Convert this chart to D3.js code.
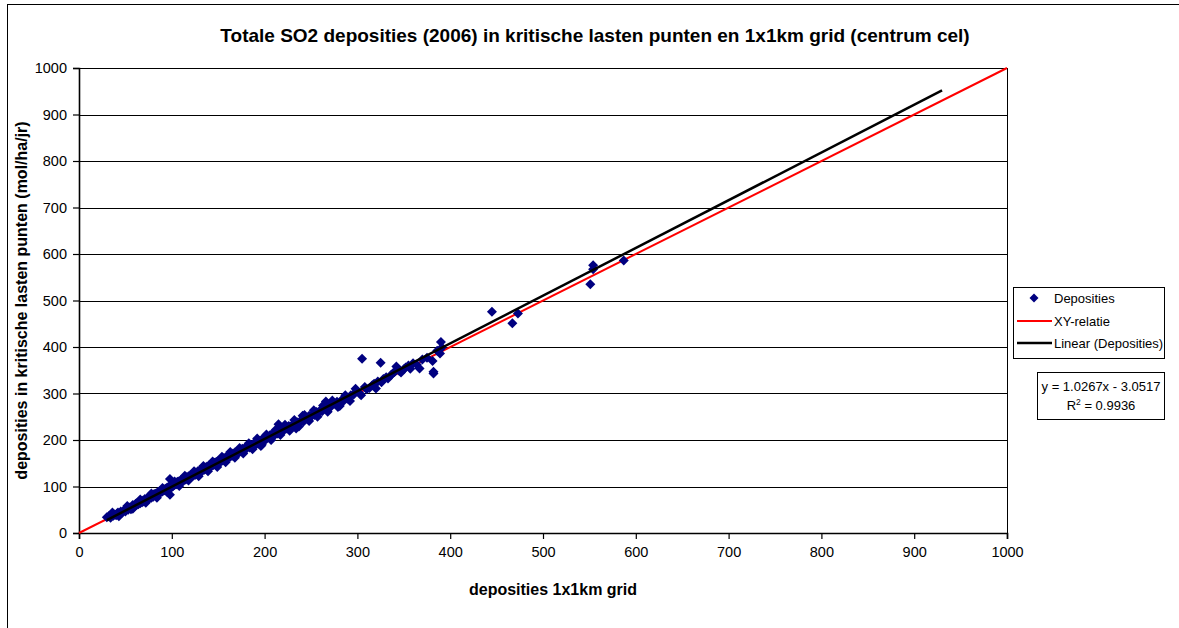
<!DOCTYPE html>
<html>
<head>
<meta charset="utf-8">
<script src="https://cdn.jsdelivr.net/npm/d3@7"></script>
<style>
  html, body { margin: 0; padding: 0; background: #fff; }
  svg { display: block; font-family: Arial, "Liberation Sans", sans-serif; }
</style>
</head>
<body>
<svg id="chart" width="1179" height="628"></svg>
<script>
const chartTitle = "Totale SO2 deposities (2006) in kritische lasten punten en 1x1km grid (centrum cel)";
const xAxisTitle = "deposities 1x1km grid";
const yAxisTitle = "deposities in kritische lasten punten (mol/ha/jr)";
const xTicks = [0, 100, 200, 300, 400, 500, 600, 700, 800, 900, 1000];
const yTicks = [0, 100, 200, 300, 400, 500, 600, 700, 800, 900, 1000];
const seriesNames = ["Deposities", "XY-relatie", "Linear (Deposities)"];
const xyRelatie = [[0, 0], [1000, 1000]];
const trendSlope = 1.0267;
const trendIntercept = -3.0517;
const trendRange = [30, 930];
const trendLabel = ["y = 1.0267x - 3.0517", "R", "2", " = 0.9936"];
const depositiesPoints = [
[30,34],[32,36],[34,33],[35,38],[37,37],[38,40],[40,38],[41,42],[42,44],[44,41],[45,46],[46,43],[48,47],[49,50],[50,46],[51,52],[53,50],[54,55],[55,53],[56,51],[57,57],[58,60],[59,56],[60,58],[61,63],[62,60],[63,65],[64,62],[65,66],[66,64],[67,69],[68,66],[69,70],[70,68],[71,73],[72,71],[73,74],[74,72],[75,77],[76,75],[77,79],[78,76],[79,80],[80,78],[81,84],[82,82],[83,85],[84,81],[85,88],[86,86],[87,90],[88,87],[89,91],[90,89],[91,94],[92,92],[93,95],[94,92],[95,98],[96,96],[97,100],[98,82],[98,116],[99,97],[100,103],[101,100],[102,106],[103,103],[104,108],[105,105],[106,110],[107,107],[108,112],[109,109],[110,114],[111,111],[112,116],[113,113],[114,118],[115,115],[116,120],[117,117],[118,122],[119,119],[120,124],[121,121],[122,126],[123,123],[124,128],[125,125],[126,130],[127,127],[128,133],[129,129],[130,135],[131,131],[132,137],[133,134],[134,139],[135,136],[136,141],[137,137],[138,143],[139,139],[140,145],[141,142],[142,147],[143,144],[144,149],[145,146],[146,151],[147,148],[148,153],[149,150],[150,155],[151,152],[152,157],[153,154],[154,159],[155,156],[156,161],[157,158],[158,163],[159,160],[160,165],[161,162],[162,167],[163,164],[164,169],[165,166],[166,171],[167,168],[168,173],[169,170],[170,175],[172,172],[173,178],[175,176],[176,181],[178,179],[179,184],[181,182],[182,187],[184,184],[185,190],[187,187],[188,192],[190,189],[191,195],[193,192],[194,198],[196,187],[196,196],[197,201],[199,198],[200,205],[202,202],[203,208],[205,205],[206,211],[208,208],[209,214],[211,211],[212,217],[214,214],[215,234],[215,220],[217,218],[219,224],[221,221],[222,227],[224,225],[226,230],[228,228],[230,233],[232,231],[234,225],[235,238],[237,236],[239,242],[241,252],[242,240],[244,247],[246,245],[248,252],[250,250],[252,256],[254,254],[256,260],[258,258],[260,264],[262,262],[264,268],[266,283],[267,278],[268,272],[270,269],[272,276],[274,280],[276,278],[278,282],[281,273],[283,286],[285,284],[288,290],[290,288],[293,296],[296,298],[299,305],[303,299],[305,375],[308,314],[310,309],[313,312],[316,318],[318,321],[320,311],[322,326],[325,366],[326,324],[328,331],[331,335],[333,332],[336,339],[338,343],[340,346],[342,358],[345,349],[347,345],[350,352],[352,356],[355,360],[357,353],[360,365],[364,362],[367,354],[370,373],[375,377],[381,370],[382,347],[382,343],[386,392],[389,386],[390,411],[391,399],[445,476],[467,451],[473,472],[551,535],[554,576],[554,567],[587,586],
[36,44],[43,36],[52,58],[58,52],[66,72],[72,65],[78,85],[84,76],[90,97],[95,88],[103,111],[108,101],[114,123],[118,113],[124,133],[129,122],[134,144],[139,133],[144,154],[149,142],[154,164],[158,152],[163,174],[168,162],[173,183],[177,171],[183,193],[187,180],[192,203],[197,190],[202,212],[207,200],[212,222],[217,211],[222,233],[227,220],[232,243],[237,229],[243,254],[248,241],[253,264],[257,250],[263,274],[268,261],[273,285],[279,271],[287,296],[292,284],[298,310],[304,296]
];

const svg = d3.select("#chart");
const plot = { left: 79, top: 68, right: 1007, bottom: 533 };

const x = d3.scaleLinear().domain([0, 1000]).range([plot.left, plot.right]);
const y = d3.scaleLinear().domain([0, 1000]).range([plot.bottom, plot.top]);

// outer frame
svg.append("rect").attr("x", 7.5).attr("y", 4.5).attr("width", 1300).attr("height", 800)
  .attr("fill", "none").attr("stroke", "#000").attr("stroke-width", 1);

// gridlines
svg.append("g").selectAll("line").data(yTicks.filter(d => d > 0)).join("line")
  .attr("x1", plot.left).attr("x2", plot.right)
  .attr("y1", d => Math.round(y(d)) + 0.5).attr("y2", d => Math.round(y(d)) + 0.5)
  .attr("stroke", "#000").attr("stroke-width", 1);

// right border of plot area
svg.append("line").attr("x1", plot.right + 0.5).attr("x2", plot.right + 0.5)
  .attr("y1", plot.top).attr("y2", plot.bottom).attr("stroke", "#000").attr("stroke-width", 1);

// axes
const xAxis = d3.axisBottom(x).tickValues(xTicks).tickSize(6).tickPadding(6).tickFormat(d3.format("d"));
const yAxis = d3.axisLeft(y).tickValues(yTicks).tickSize(6).tickPadding(6).tickFormat(d3.format("d"));

const gx = svg.append("g").attr("transform", `translate(0,${plot.bottom})`).call(xAxis);
const gy = svg.append("g").attr("transform", `translate(${plot.left},0)`).call(yAxis);
[gx, gy].forEach(g => {
  g.select(".domain").attr("stroke", "#000").attr("stroke-width", 1.6);
  g.selectAll(".tick line").attr("stroke", "#000").attr("stroke-width", 1.2);
  g.selectAll(".tick text").attr("fill", "#000").attr("font-size", 14.5)
    .attr("font-family", "Arial, 'Liberation Sans', sans-serif");
});
gx.selectAll(".tick text").attr("dy", "0.85em");

// XY-relatie line
const line = d3.line().x(d => x(d[0])).y(d => y(d[1]));
svg.append("path").datum(xyRelatie).attr("d", line)
  .attr("fill", "none").attr("stroke", "#ff0000").attr("stroke-width", 2);

// points
const r = 5;
const diamondPath = `M0,${-r}L${r},0L0,${r}L${-r},0Z`;
svg.append("g").selectAll("path").data(depositiesPoints).join("path")
  .attr("d", diamondPath)
  .attr("transform", d => `translate(${x(d[0])},${y(d[1])})`)
  .attr("fill", "#000080");

// trend line
const trendPts = trendRange.map(v => [v, trendSlope * v + trendIntercept]);
svg.append("path").datum(trendPts).attr("d", line)
  .attr("fill", "none").attr("stroke", "#000").attr("stroke-width", 2.5);

// title
svg.append("text").attr("x", 595).attr("y", 42).attr("text-anchor", "middle")
  .attr("font-size", 19).attr("font-weight", "bold").text(chartTitle);

// axis titles
svg.append("text").attr("x", 553).attr("y", 595).attr("text-anchor", "middle")
  .attr("font-size", 16).attr("font-weight", "bold").text(xAxisTitle);
svg.append("text").attr("transform", `translate(27,${(plot.top + plot.bottom) / 2}) rotate(-90)`)
  .attr("text-anchor", "middle").attr("font-size", 16).attr("font-weight", "bold").text(yAxisTitle);

// legend
const lg = svg.append("g");
lg.append("rect").attr("x", 1013.5).attr("y", 287.5).attr("width", 151).attr("height", 71)
  .attr("fill", "#fff").attr("stroke", "#000");
const legRows = [298, 321, 343];
lg.append("path").attr("d", `M0,-4.5L4.5,0L0,4.5L-4.5,0Z`)
  .attr("transform", `translate(1034,${legRows[0]})`).attr("fill", "#000080");
lg.append("line").attr("x1", 1017).attr("x2", 1052).attr("y1", legRows[1]).attr("y2", legRows[1])
  .attr("stroke", "#ff0000").attr("stroke-width", 2);
lg.append("line").attr("x1", 1017).attr("x2", 1052).attr("y1", legRows[2]).attr("y2", legRows[2])
  .attr("stroke", "#000").attr("stroke-width", 2.5);
lg.selectAll("text.leg").data(seriesNames).join("text").attr("class", "leg")
  .attr("x", 1054).attr("y", (d, i) => legRows[i] + 4.5).attr("font-size", 13).text(d => d);

// trendline label box
const eq = svg.append("g");
eq.append("rect").attr("x", 1037.5).attr("y", 372.5).attr("width", 127).attr("height", 47)
  .attr("fill", "#fff").attr("stroke", "#000");
eq.append("text").attr("x", 1101).attr("y", 391).attr("text-anchor", "middle")
  .attr("font-size", 13).text(trendLabel[0]);
const r2 = eq.append("text").attr("x", 1101).attr("y", 410).attr("text-anchor", "middle").attr("font-size", 13);
r2.append("tspan").text(trendLabel[1]);
r2.append("tspan").attr("font-size", 8.5).attr("dy", -5).text(trendLabel[2]);
r2.append("tspan").attr("dy", 5).text(trendLabel[3]);
</script>
</body>
</html>
